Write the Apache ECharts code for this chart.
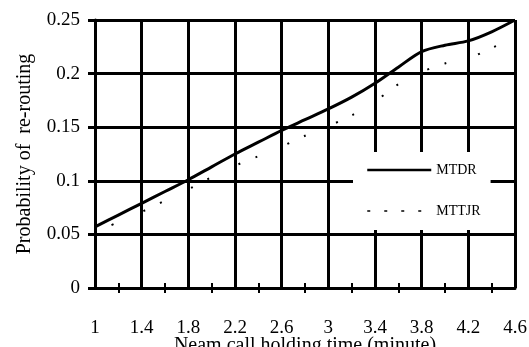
<!DOCTYPE html>
<html>
<head>
<meta charset="utf-8">
<script src="https://cdn.jsdelivr.net/npm/echarts@6/dist/echarts.min.js"></script>
<style>
  html, body { margin: 0; padding: 0; background: #fff; }
  #chart { width: 529px; height: 347px; }
</style>
</head>
<body>
<div id="chart"></div>
<script>
// holding time (minute), step 0.2
const categories = ['1', '1.2', '1.4', '1.6', '1.8', '2', '2.2', '2.4', '2.6', '2.8', '3', '3.2', '3.4', '3.6', '3.8', '4', '4.2', '4.4', '4.6']
const mtdr = [0.057, 0.068, 0.079, 0.090, 0.101, 0.113, 0.125, 0.136, 0.147, 0.157, 0.167, 0.178, 0.191, 0.206, 0.2205, 0.2265, 0.2305, 0.239, 0.25]
const mttjr = [0.052, 0.0615, 0.071, 0.0815, 0.092, 0.1035, 0.114, 0.123, 0.132, 0.142, 0.151, 0.161, 0.174, 0.19, 0.2015, 0.2095, 0.214, 0.224, 0.232]
const yTicks = [0, 0.05, 0.1, 0.15, 0.2, 0.25]

const font = 'Liberation Serif'
const even = function (i) { return i % 2 === 0 }
const odd = function (i) { return i % 2 === 1 }

const chart = echarts.init(document.getElementById('chart'))
chart.setOption({
  animation: false,
  grid: { left: 95, right: 14, top: 20, bottom: 59, outerBoundsMode: 'none' },
  legend: {
    orient: 'vertical',
    left: 353,
    top: 152,
    padding: [11, 10, 12, 13],
    backgroundColor: '#fff',
    itemWidth: 64,
    itemHeight: 14,
    itemGap: 27,
    itemStyle: { opacity: 0 }, // line only, no marker
    textStyle: { fontFamily: font, fontSize: 14, color: '#000' },
    data: [
      { name: 'MTDR', lineStyle: { width: 2.5 } },
      { name: 'MTTJR', lineStyle: { width: 1.5, type: [3, 14] } }
    ]
  },
  xAxis: [
    {
      type: 'category',
      data: categories,
      boundaryGap: false,
      position: 'bottom',
      name: 'Neam call holding time (minute)',
      nameLocation: 'middle',
      nameGap: 48,
      nameMoveOverlap: false,
      nameTextStyle: { fontFamily: font, fontSize: 20, color: '#000' },
      axisLine: { lineStyle: { color: '#000', width: 3 } },
      axisTick: { interval: odd, length: 5, lineStyle: { color: '#000', width: 2 } },
      axisLabel: { interval: even, margin: 31, fontFamily: font, fontSize: 19, color: '#000' },
      splitLine: { show: true, interval: even, lineStyle: { color: '#000', width: 3 } }
    },
    {
      // inner half of the crossing minor ticks
      type: 'category',
      data: categories,
      boundaryGap: false,
      position: 'bottom',
      axisLine: { show: false },
      axisTick: { inside: true, interval: odd, length: 5, lineStyle: { color: '#000', width: 2 } },
      axisLabel: { show: false },
      splitLine: { show: false }
    }
  ],
  yAxis: {
    type: 'value',
    min: yTicks[0],
    max: yTicks[yTicks.length - 1],
    interval: 0.05,
    name: 'Probability of  re-routing',
    nameLocation: 'middle',
    nameGap: 60,
    nameTextStyle: { fontFamily: font, fontSize: 20, color: '#000' },
    axisLine: { show: true, lineStyle: { color: '#000', width: 3 } },
    axisTick: { show: true, length: 7, lineStyle: { color: '#000', width: 3 } },
    axisLabel: { margin: 15, fontFamily: font, fontSize: 19, color: '#000' },
    splitLine: { lineStyle: { color: '#000', width: 3 } }
  },
  series: [
    {
      name: 'MTDR',
      type: 'line',
      data: mtdr,
      smooth: 0.3,
      symbol: 'none',
      lineStyle: { color: '#000', width: 3 },
      itemStyle: { color: '#000' }
    },
    {
      name: 'MTTJR',
      type: 'line',
      data: mttjr,
      smooth: 0.3,
      symbol: 'none',
      lineStyle: { color: '#000', width: 2, type: [2, 16, 2, 33] },
      itemStyle: { color: '#000' }
    }
  ]
})
</script>
</body>
</html>
